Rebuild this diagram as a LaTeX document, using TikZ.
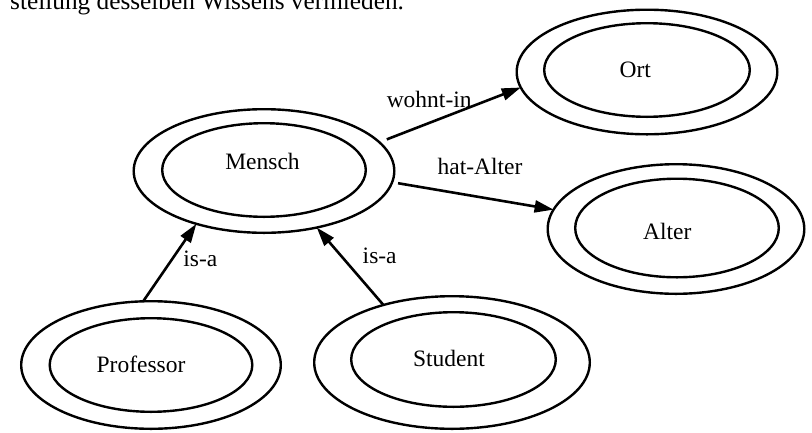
\documentclass[tikz,border=0pt]{standalone}
\usepackage{fontspec}
\setmainfont{Liberation Serif}
\usetikzlibrary{shapes.geometric,arrows.meta}
\begin{document}
\begin{tikzpicture}[x=1pt,y=-1pt,
  ring/.style={ellipse,draw,line width=2.4pt,inner sep=0pt,outer sep=0pt},
  lbl/.style={font=\fontsize{23.5}{28}\selectfont,inner sep=0pt},
  rel/.style={line width=2.6pt,-{Triangle[length=19pt,width=12pt]}}]
\useasboundingbox (0,0) rectangle (812,432);
\clip (0,0) rectangle (812,432);
\node[anchor=base west,font=\fontsize{25.3}{30}\selectfont,inner sep=0pt] (head) at (10,9.5) {stellung desselben Wissens vermieden.};
% Mensch
\node[ring,minimum width=260.6pt,minimum height=123.6pt] (m) at (264,171) {};
\node[ring,minimum width=203.6pt,minimum height=93.6pt] (mi) at (264,170) {};
\node[lbl] (mt) at (262.5,161.7) {Mensch};
% Ort
\node[ring,minimum width=260.6pt,minimum height=124.6pt] (o) at (647,72) {};
\node[ring,minimum width=205.6pt,minimum height=93.6pt] (oi) at (647,70) {};
\node[lbl] (ot) at (635.3,70.3) {Ort};
% Alter
\node[ring,minimum width=256.6pt,minimum height=129.6pt] (a) at (676,229) {};
\node[ring,minimum width=203.6pt,minimum height=98.6pt] (ai) at (677,228) {};
\node[lbl] (at) at (667.2,231) {Alter};
% Professor
\node[ring,minimum width=259.6pt,minimum height=127.6pt] (p) at (151,365) {};
\node[ring,minimum width=202.6pt,minimum height=93.6pt] (pi) at (151,365) {};
\node[lbl] (pt) at (141,364) {Professor};
% Student
\node[ring,minimum width=275.6pt,minimum height=132.6pt] (s) at (452,362.5) {};
\node[ring,minimum width=204.6pt,minimum height=94.6pt] (si) at (453.5,359.5) {};
\node[lbl] (st) at (449,358) {Student};
% relations
\draw[rel,shorten <=8pt] (m.14.5) -- (o.187.5);
\draw[rel,shorten <=6pt] (m.-5.1) -- (a.171.4);
\draw[rel] (p.97.7) -- (m.-142.1);
\draw[rel] (s.140.7) -- (m.-47.4);
% labels
\node[lbl] (l1) at (429.2,99.7) {wohnt-in};
\node[lbl] (l2) at (480,166.3) {hat-Alter};
\node[lbl] (l3) at (200.3,259) {is-a};
\node[lbl] (l4) at (379.7,255.5) {is-a};
\end{tikzpicture}
\end{document}
